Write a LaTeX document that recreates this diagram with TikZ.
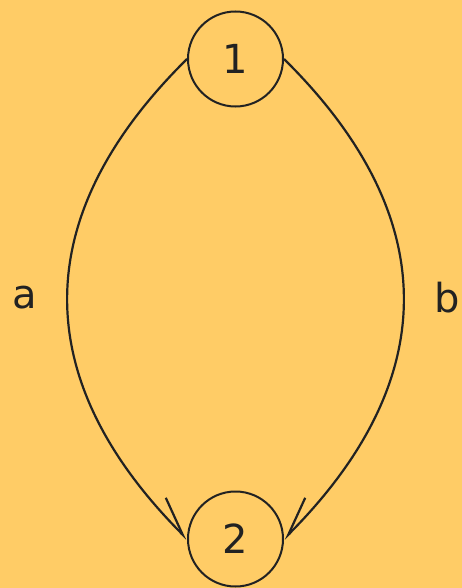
\documentclass[tikz,border=0pt]{standalone}
\usepackage{fontspec}
\setmainfont{DejaVu Sans}
\usetikzlibrary{arrows.meta}
\definecolor{bg}{HTML}{FFCC66}
\definecolor{ink}{HTML}{222222}
\begin{document}
\begin{tikzpicture}[x=1pt,y=-1pt,
  statenode/.style={circle,draw=ink,line width=2pt,minimum size=95pt,inner sep=0pt,
    font=\fontsize{40}{40}\selectfont,text=ink},
  edgeleft/.style={draw=ink,line width=2.2pt,-{Straight Barb[harpoon,length=38pt,width=28pt]}},
  edgeright/.style={draw=ink,line width=2.2pt,-{Straight Barb[harpoon,swap,length=38pt,width=28pt]}},
  lbl/.style={font=\fontsize{40}{40}\selectfont,text=ink,inner sep=0pt}]
\fill[bg] (0,0) rectangle (462,588);
\useasboundingbox (0,0) rectangle (462,588);
\node[statenode] (n1) at (235.5,59) {1};
\node[statenode] (n2) at (235.5,539) {2};
\draw[edgeleft] (n1.west) .. controls (28,216) and (28,379) .. (n2.west);
\draw[edgeright] (n1.east) .. controls (443,216) and (443,379) .. (n2.east);
\node[lbl] (la) at (25,298) {a};
\node[lbl] (lb) at (447,298) {b};
\end{tikzpicture}
\end{document}
